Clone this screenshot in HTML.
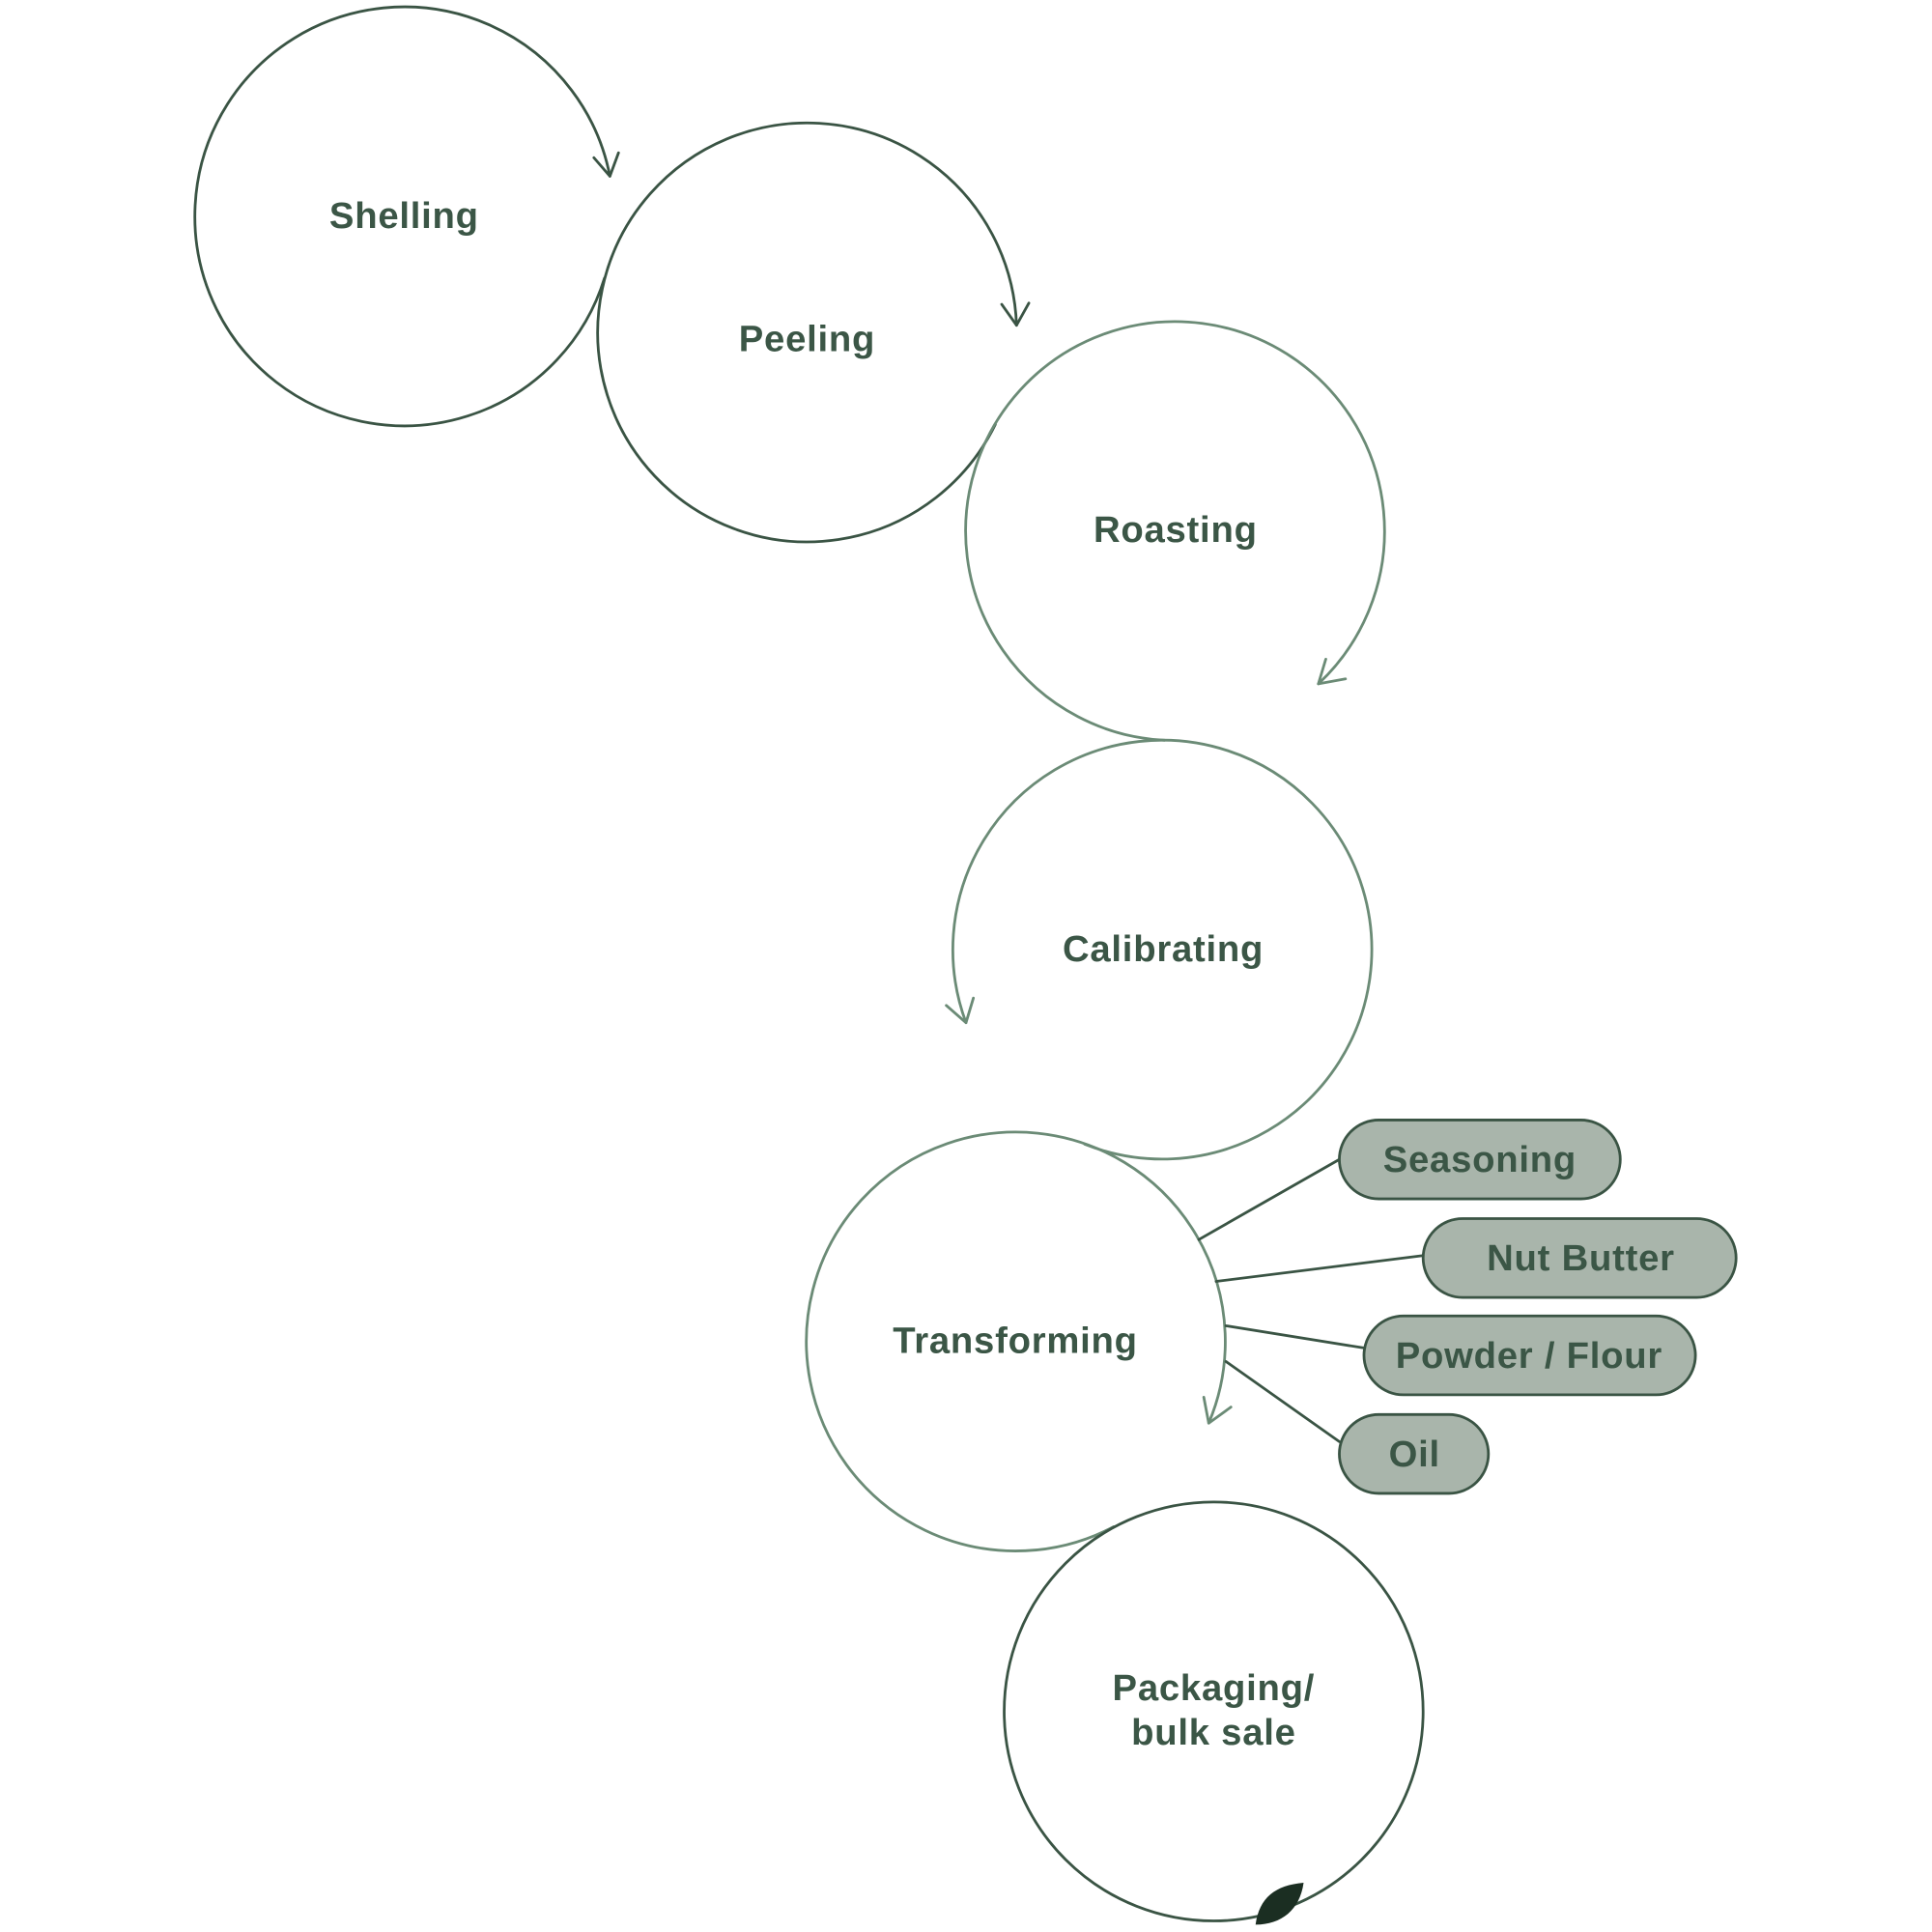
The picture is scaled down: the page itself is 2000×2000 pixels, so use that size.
<!DOCTYPE html>
<html><head><meta charset="utf-8"><style>
html,body{margin:0;padding:0;background:#fff;}
svg{display:block;}
text{font-family:"Liberation Sans",sans-serif;font-weight:bold;fill:#3b5646;text-anchor:middle;letter-spacing:0.6px;}
</style></head><body>
<svg width="2000" height="2000" viewBox="0 0 1568 1568" xmlns="http://www.w3.org/2000/svg">
<g fill="none" stroke-width="2.2" stroke-linecap="round" stroke-linejoin="round">
<path d="M490.6,225.7 A170,170 0 1 1 495,143" stroke="#3a5444"/>
<path d="M482,128 L495,143 L502,124" stroke="#3a5444"/>
<path d="M807.8,344.5 A170,170 0 1 1 825,264" stroke="#3a5444"/>
<path d="M813,247 L825,264 L835,246" stroke="#3a5444"/>
<path d="M945.1,600.8 A170,170 0 1 1 1070,555" stroke="#6b8b76"/>
<path d="M1076,535 L1070,555 L1092,551" stroke="#6b8b76"/>
<path d="M880.3,928.6 A170,170 0 1 0 784,830" stroke="#6b8b76"/>
<path d="M768,816 L784,830 L790,810" stroke="#6b8b76"/>
<path d="M903.8,1239.1 A170,170 0 1 1 981,1155" stroke="#6b8b76"/>
<path d="M977,1134 L981,1155 L999,1142" stroke="#6b8b76"/>
<circle cx="985" cy="1389" r="170" stroke="#3a5444"/>
<g stroke="#3a5444">
<line x1="973" y1="1006" x2="1087" y2="941"/>
<line x1="987" y1="1040" x2="1155" y2="1019"/>
<line x1="995" y1="1076" x2="1107" y2="1094"/>
<line x1="995" y1="1105" x2="1087" y2="1170"/>
</g>
</g>
<path d="M1019,1562 C1022,1540 1035,1530 1058,1528 C1055,1550 1040,1562 1019,1562 Z" fill="#1b2e22"/>
<g fill="#a9b5ab" stroke="#3a5444" stroke-width="2.2">
<rect x="1087" y="909" width="228" height="64" rx="32"/>
<rect x="1155" y="989" width="254" height="64" rx="32"/>
<rect x="1107" y="1068" width="269" height="64" rx="32"/>
<rect x="1087" y="1148" width="121" height="64" rx="32"/>
</g>
<g font-size="30">
<text x="328" y="185">Shelling</text>
<text x="655" y="285">Peeling</text>
<text x="954" y="440">Roasting</text>
<text x="944" y="780">Calibrating</text>
<text x="824" y="1098">Transforming</text>
<text x="985" y="1380">Packaging/</text>
<text x="985" y="1416">bulk sale</text>
<text x="1201" y="951">Seasoning</text>
<text x="1283" y="1031">Nut Butter</text>
<text x="1241" y="1110">Powder / Flour</text>
<text x="1148" y="1190">Oil</text>
</g>
</svg>
</body></html>
